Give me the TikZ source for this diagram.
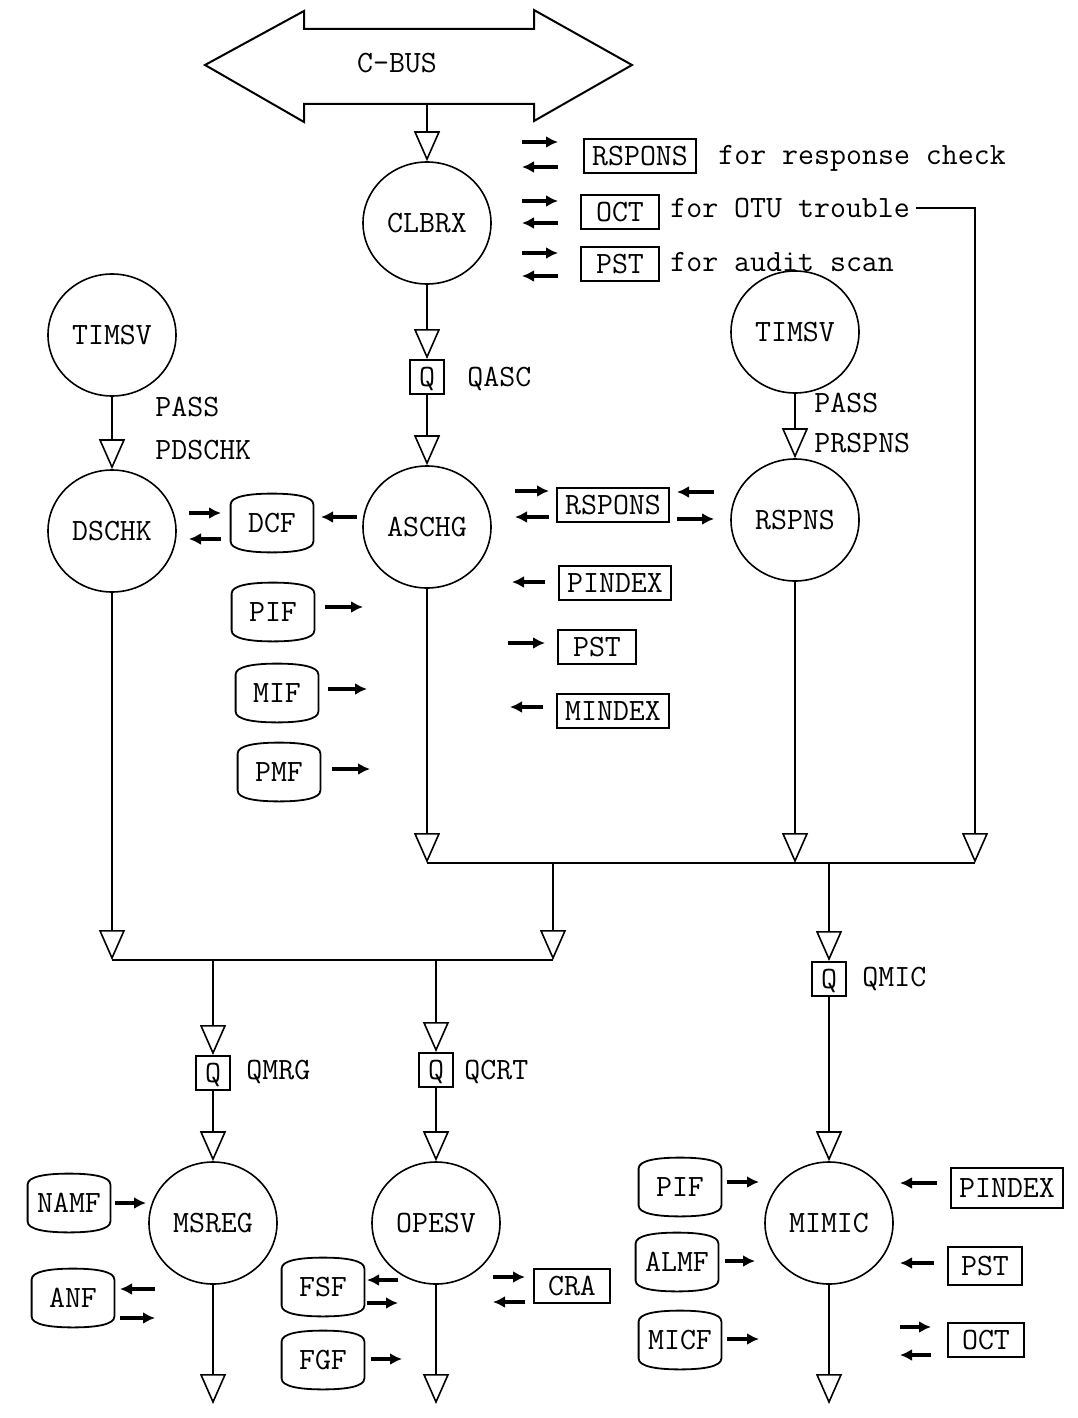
\documentclass[tikz,border=0pt]{standalone}
\usetikzlibrary{arrows.meta,shapes.geometric,calc}
\newcommand{\fileshape}[3]{%
  \node[ftxt] (#1) at (#2) {#3};
  \draw[fline] (#1.north west) .. controls ($(#1.north west)+(0,4pt)$) and ($(#1.north)+(-12pt,5.5pt)$) .. ($(#1.north)+(0,5.5pt)$)
    .. controls ($(#1.north)+(12pt,5.5pt)$) and ($(#1.north east)+(0,4pt)$) .. (#1.north east)
    -- (#1.south east) .. controls ($(#1.south east)+(0,-4pt)$) and ($(#1.south)+(12pt,-5.5pt)$) .. ($(#1.south)+(0,-5.5pt)$)
    .. controls ($(#1.south)+(-12pt,-5.5pt)$) and ($(#1.south west)+(0,-4pt)$) .. (#1.south west) -- cycle;}
\newcommand{\sarw}[3]{\draw[sa] (#1,#3) -- (#2,#3);}
\begin{document}
\begin{tikzpicture}[x=0.5pt,y=-0.5pt,
  font=\fontsize{15.5pt}{18pt}\selectfont\ttfamily,
  proc/.style={draw,ellipse,minimum width=64pt,minimum height=61pt,inner sep=0pt,line width=0.8pt},
  qbox/.style={draw,minimum width=17pt,minimum height=17pt,inner sep=0pt,line width=1pt,text height=9pt,text depth=0pt},
  rbox/.style={draw,inner xsep=4pt,inner ysep=0pt,minimum height=17pt,line width=1.1pt,text height=9pt,text depth=0pt},
  ftxt/.style={minimum width=41pt,minimum height=18pt,inner sep=0pt},
  fline/.style={line width=0.9pt},
  flow/.style={line width=0.8pt,-{Triangle[open,width=13pt,length=15pt,line width=0.8pt]}},
  bus/.style={line width=0.9pt},
  sa/.style={line width=1.6pt,-{Latex[length=6pt,width=6pt]}},
  lbl/.style={anchor=west,inner sep=0pt,text height=9pt,text depth=0pt},
]
\useasboundingbox (0,0) rectangle (1077,1418);

% C-BUS
\draw[line width=1pt] (205,65) -- (304,11) -- (304,29) -- (534,29) -- (534,10) -- (632,65) -- (534,121) -- (534,104) -- (304,104) -- (304,122) -- cycle;
\node (cbus) at (397,63) {C-BUS};
\coordinate (cbusb) at (427,104);

% processes
\node[proc] (clbrx) at (427,223) {CLBRX};
\node[proc] (timsvl) at (112,335) {TIMSV};
\node[proc] (dschk) at (112,531) {DSCHK};
\node[qbox] (qasc) at (427,377) {Q};
\node[proc] (aschg) at (427,527) {ASCHG};
\node[proc] (timsvr) at (795,332) {TIMSV};
\node[proc] (rspns) at (795,520) {RSPNS};
\node[proc] (msreg) at (213,1223) {MSREG};
\node[proc] (opesv) at (436,1223) {OPESV};
\node[proc] (mimic) at (829,1223) {MIMIC};
\node[qbox] (qmrg) at (213,1073) {Q};
\node[qbox] (qcrt) at (436,1070) {Q};
\node[qbox] (qmic) at (829,979) {Q};

% labels
\node[lbl] (lqasc) at (467,377) {QASC};
\node[lbl] (lqmic) at (862,977) {QMIC};
\node[lbl] (lqmrg) at (246,1070) {QMRG};
\node[lbl] (lqcrt) at (464,1070) {QCRT};
\node[lbl] (lpass1) at (155,407) {PASS};
\node[lbl] (lpd) at (155,450) {PDSCHK};
\node[lbl] (lpass2) at (814,403) {PASS};
\node[lbl] (lpr) at (814,443) {PRSPNS};

% top boxes
\node[rbox] (rsp1) at (640,156) {RSPONS};
\node[rbox,minimum width=39pt] (oct1) at (620,212) {OCT};
\node[rbox,minimum width=39pt] (pst1) at (620,264) {PST};
\node[lbl] (t1) at (718,155) {for response check};
\node[lbl] (t2) at (670,208) {for OTU trouble};
\node[lbl] (t3) at (670,262) {for audit scan};

% middle boxes
\node[rbox] (rsp2) at (613,505) {RSPONS};
\node[rbox] (pind1) at (615,583) {PINDEX};
\node[rbox,minimum width=39pt] (pst2) at (597,647) {PST};
\node[rbox] (mind1) at (613,711) {MINDEX};

% bottom boxes
\node[rbox,minimum width=38pt] (cra) at (572,1286) {CRA};
\node[rbox,minimum height=20pt] (pind2) at (1007,1188) {PINDEX};
\node[rbox,minimum width=37pt,minimum height=19pt] (pst3) at (985,1266) {PST};
\node[rbox,minimum width=38pt] (oct2) at (986,1340) {OCT};

% files
\fileshape{dcf}{272,523}{DCF}
\fileshape{pif1}{273,612}{PIF}
\fileshape{mif}{277,693}{MIF}
\fileshape{pmf}{279,772}{PMF}
\fileshape{namf}{69,1203}{NAMF}
\fileshape{anf}{73,1298}{ANF}
\fileshape{fsf}{323,1287}{FSF}
\fileshape{fgf}{323,1360}{FGF}
\fileshape{pif2}{680,1187}{PIF}
\fileshape{almf}{677,1262}{ALMF}
\fileshape{micf}{680,1340}{MICF}

% buses
\coordinate (b1l) at (427,863); \coordinate (b1r) at (975,863);
\coordinate (b1a) at (553,863); \coordinate (b1b) at (829,863);
\coordinate (b2l) at (112,960); \coordinate (b2r) at (553,960);
\coordinate (b2c) at (213,960); \coordinate (b2d) at (436,960);
\draw[bus] (b1l) -- (b1r);
\draw[bus] (b2l) -- (b2r);

% flows
\draw[flow] (cbusb) -- (clbrx.north);
\draw[flow] (clbrx.south) -- (qasc.north);
\draw[flow] (qasc.south) -- (aschg.north);
\draw[flow] (timsvl.south) -- (dschk.north);
\draw[flow] (timsvr.south) -- (rspns.north);
\draw[flow] (aschg.south) -- (b1l);
\draw[flow] (rspns.south) -- (rspns.south |- b1l);
\draw[flow] ([xshift=3pt]t2.east) -| (b1r);
\draw[flow] (b1a) -- (b2r);
\draw[flow] (b1b) -- (qmic.north);
\draw[flow] (dschk.south) -- (b2l);
\draw[flow] (b2c) -- (qmrg.north);
\draw[flow] (b2d) -- (qcrt.north);
\draw[flow] (qmrg.south) -- (msreg.north);
\draw[flow] (qcrt.south) -- (opesv.north);
\draw[flow] (qmic.south) -- (mimic.north);
\coordinate (xm) at (213,1404);
\coordinate (xo) at (436,1404);
\coordinate (xi) at (829,1404);
\draw[flow] (msreg.south) -- (xm);
\draw[flow] (opesv.south) -- (xo);
\draw[flow] (mimic.south) -- (xi);

% small arrows
\sarw{522}{558}{142} \sarw{558}{522}{167}
\sarw{522}{558}{201} \sarw{558}{522}{223}
\sarw{522}{558}{253} \sarw{558}{522}{276}
\sarw{189}{221}{513} \sarw{221}{189}{539}
\sarw{357}{321}{517}
\sarw{515}{549}{491} \sarw{549}{515}{517}
\sarw{714}{677}{492} \sarw{677}{714}{519}
\sarw{325}{363}{607}
\sarw{328}{367}{689}
\sarw{332}{370}{769}
\sarw{545}{512}{582}
\sarw{508}{545}{643}
\sarw{543}{510}{707}
\sarw{115}{146}{1203}
\sarw{155}{120}{1289} \sarw{120}{155}{1318}
\sarw{398}{367}{1280} \sarw{367}{398}{1303}
\sarw{371}{402}{1359}
\sarw{493}{525}{1277} \sarw{525}{493}{1302}
\sarw{727}{759}{1182}
\sarw{725}{755}{1261}
\sarw{727}{759}{1339}
\sarw{937}{900}{1183}
\sarw{934}{900}{1263}
\sarw{900}{931}{1327} \sarw{931}{900}{1355}
\end{tikzpicture}
\end{document}
